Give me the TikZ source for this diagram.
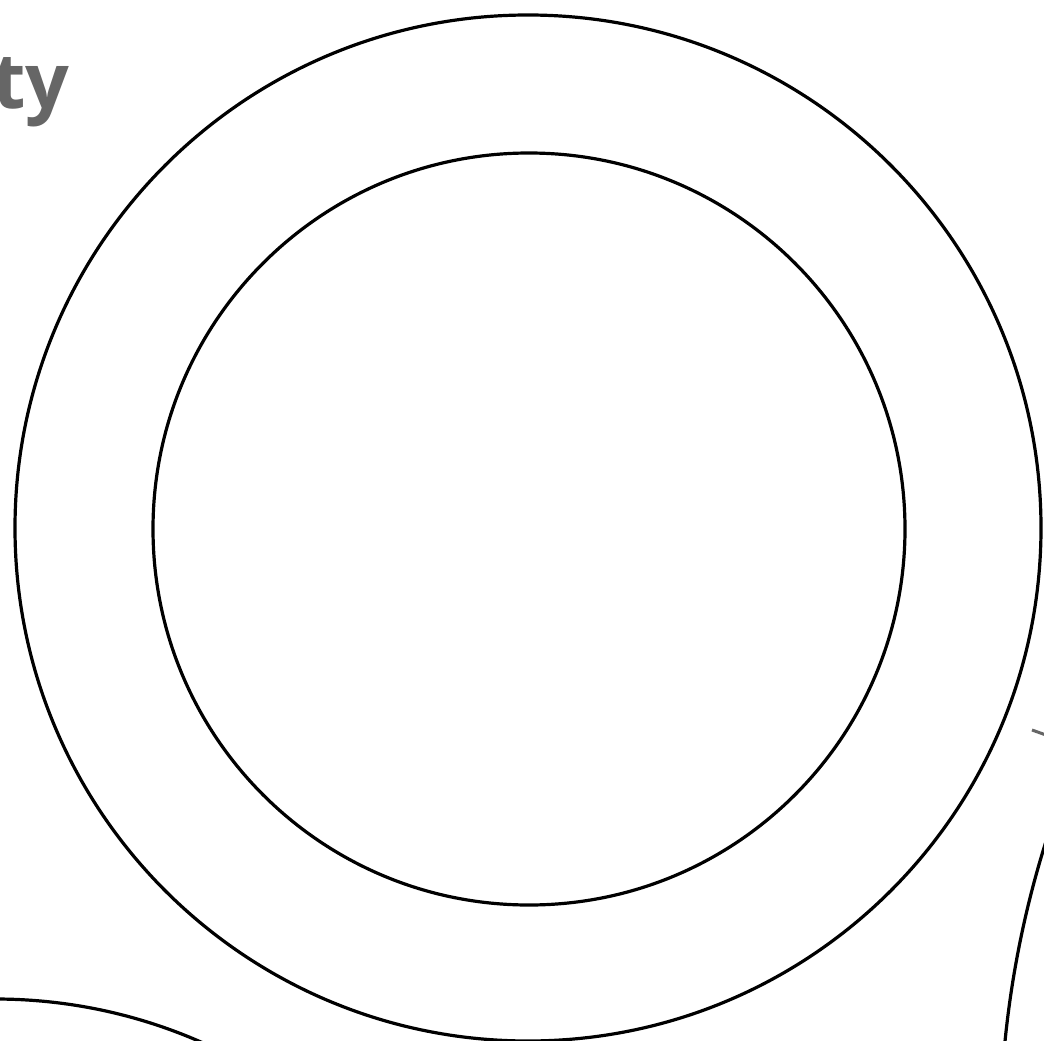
\documentclass[tikz,border=0pt]{standalone}
\usepackage{fontspec}
\setmainfont{Open Sans}
\definecolor{txtgray}{HTML}{666666}
\begin{document}
\begin{tikzpicture}[x=1pt,y=-1pt,
  ring/.style={draw=black,line width=3.2pt},
  lbl/.style={text=txtgray,font=\bfseries\fontsize{77}{84}\selectfont,inner sep=0pt,anchor=base east}]
\useasboundingbox (0,0) rectangle (1044,1041);
\clip (0,0) rectangle (1044,1041);
\fill[white] (0,0) rectangle (1044,1041);
\draw[ring] (528,528) circle[radius=513];
\draw[ring] (529,529) circle[radius=376];
\draw[ring] (-5,1512) circle[radius=513];
\draw[ring] (2000,1142) circle[radius=1000];
\node[lbl] (title) at (70,108) {ty};
\draw[txtgray,line width=3pt] (1032,730) -- (1046,735);
\end{tikzpicture}
\end{document}
